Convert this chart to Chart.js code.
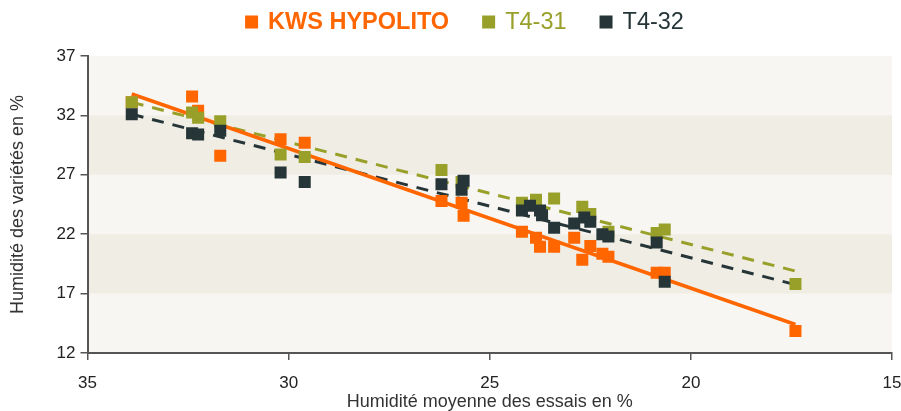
<!DOCTYPE html>
<html>
<head>
<meta charset="utf-8">
<script src="https://cdn.jsdelivr.net/npm/chart.js@4.4.1/dist/chart.umd.min.js"></script>
<style>
  html, body { margin: 0; padding: 0; background: #ffffff; }
  #wrap { width: 901px; height: 411px; position: relative; }
</style>
</head>
<body>
<div id="wrap"><canvas id="c" width="901" height="411"></canvas></div>
<script>
// ---- Data ----
const seriesNames = ["KWS HYPOLITO", "T4-31", "T4-32"];

const kwsX = [33.9, 32.4, 32.25, 31.7, 30.2, 29.6, 26.2, 25.7, 25.65, 24.2, 23.85, 23.75, 23.4, 22.9, 22.5, 22.7, 22.2, 22.05, 20.85, 20.65, 17.4];
const kwsY = [33.1, 33.6, 32.4, 28.6, 30.0, 29.7, 24.8, 24.65, 23.55, 22.2, 21.7, 20.95, 20.95, 21.7, 21.0, 19.85, 20.35, 20.1, 18.75, 18.75, 13.85];

const t431X = [33.9, 32.4, 32.25, 31.7, 30.2, 29.6, 26.2, 25.7, 24.2, 23.85, 23.4, 22.7, 22.5, 22.05, 20.85, 20.65, 17.4];
const t431Y = [33.1, 32.25, 31.8, 31.5, 28.7, 28.5, 27.4, 26.4, 24.65, 24.9, 25.0, 24.3, 23.7, 22.2, 22.1, 22.4, 17.8];

const t432X = [33.9, 32.4, 32.25, 31.7, 30.2, 29.6, 26.2, 25.65, 25.7, 24.2, 24.0, 23.75, 23.7, 23.4, 22.9, 22.65, 22.5, 22.2, 22.05, 20.85, 20.65];
const t432Y = [32.1, 30.5, 30.4, 30.7, 27.2, 26.4, 26.2, 26.5, 25.75, 24.0, 24.4, 24.0, 23.6, 22.55, 22.9, 23.4, 23.05, 22.0, 21.8, 21.3, 18.0];

// Trend line end points
const trendKwsX = [33.9, 17.4];   const trendKwsY = [33.8, 14.4];
const trend431X = [33.9, 17.4];   const trend431Y = [33.1, 18.9];
const trend432X = [33.9, 17.4];   const trend432Y = [32.1, 17.75];

// Axes
const xTicks = [35, 30, 25, 20, 15];
const yTicks = [12, 17, 22, 27, 32, 37];
const bandRanges = [[17, 22], [27, 32]];

const xTitle = "Humidité moyenne des essais en %";
const yTitle = "Humidité des variétés en %";

// ---- Styles ----
const COL_KWS = "#FF6600";
const COL_431 = "#98A02A";
const COL_432 = "#263538";
const FONT = "'Liberation Sans', Arial, Helvetica, sans-serif";

const pts = (xs, ys) => xs.map((x, i) => ({ x: x, y: ys[i] }));

const bandsPlugin = {
  id: 'bands',
  beforeDraw(chart) {
    const { ctx, chartArea, scales } = chart;
    ctx.save();
    ctx.fillStyle = "#F7F6F2";
    ctx.fillRect(chartArea.left, chartArea.top, chartArea.right - chartArea.left, chartArea.bottom - chartArea.top);
    ctx.fillStyle = "#F0EDE5";
    bandRanges.forEach(([a, b]) => {
      const y1 = scales.y.getPixelForValue(b);
      const y2 = scales.y.getPixelForValue(a);
      ctx.fillRect(chartArea.left, y1, chartArea.right - chartArea.left, y2 - y1);
    });
    ctx.restore();
  }
};

const legendPlugin = {
  id: 'customLegend',
  afterDraw(chart) {
    const ctx = chart.ctx;
    const items = [
      { text: seriesNames[0], color: COL_KWS, bold: true },
      { text: seriesNames[1], color: COL_431, bold: false },
      { text: seriesNames[2], color: COL_432, bold: false }
    ];
    const box = 13, gapText = 10, gapItem = 33, size = 23.5, cy = 22, centerX = 464.5;
    ctx.save();
    ctx.textBaseline = 'middle';
    const widths = items.map(it => {
      ctx.font = (it.bold ? "bold " : "") + size + "px " + FONT;
      return ctx.measureText(it.text).width;
    });
    let total = 0;
    items.forEach((it, i) => { total += box + gapText + widths[i] + (i < items.length - 1 ? gapItem : 0); });
    let x = centerX - total / 2;
    items.forEach((it, i) => {
      ctx.fillStyle = it.color;
      ctx.fillRect(x, cy - box / 2, box, box);
      x += box + gapText;
      ctx.font = (it.bold ? "bold " : "") + size + "px " + FONT;
      ctx.fillText(it.text, x, cy + 1);
      x += widths[i] + gapItem;
    });
    ctx.restore();
  }
};

const markerRadius = 8.5;

new Chart(document.getElementById('c'), {
  type: 'scatter',
  data: {
    datasets: [
      { label: seriesNames[0] + " trend", data: pts(trendKwsX, trendKwsY), showLine: true, borderColor: COL_KWS, borderWidth: 3.5, pointRadius: 0, order: 4 },
      { label: seriesNames[1] + " trend", data: pts(trend431X, trend431Y), showLine: true, borderColor: COL_431, borderWidth: 3, borderDash: [12, 9], pointRadius: 0, order: 4 },
      { label: seriesNames[2] + " trend", data: pts(trend432X, trend432Y), showLine: true, borderColor: COL_432, borderWidth: 3, borderDash: [12, 9], pointRadius: 0, order: 4 },
      { label: seriesNames[2], data: pts(t432X, t432Y), pointStyle: 'rect', pointRadius: markerRadius, backgroundColor: COL_432, borderWidth: 0, order: 1 },
      { label: seriesNames[1], data: pts(t431X, t431Y), pointStyle: 'rect', pointRadius: markerRadius, backgroundColor: COL_431, borderWidth: 0, order: 2 },
      { label: seriesNames[0], data: pts(kwsX, kwsY), pointStyle: 'rect', pointRadius: markerRadius, backgroundColor: COL_KWS, borderWidth: 0, order: 3 }
    ]
  },
  options: {
    responsive: false,
    animation: false,
    events: [],
    layout: { padding: { top: 56, left: 0, right: 0, bottom: 0 } },
    plugins: { legend: { display: false }, tooltip: { enabled: false } },
    scales: {
      x: {
        type: 'linear',
        reverse: true,
        min: Math.min(...xTicks),
        max: Math.max(...xTicks),
        afterBuildTicks: (s) => { s.ticks = xTicks.map(v => ({ value: v })); },
        afterFit: (s) => { s.paddingRight = 9; },
        ticks: { color: "#222", font: { family: FONT, size: 17 }, padding: 13 },
        grid: { display: true, drawOnChartArea: false, drawTicks: true, tickLength: 7, color: "#555", lineWidth: 1.5 },
        border: { display: true, color: "#555", width: 2 },
        title: { display: true, text: xTitle, color: "#333", font: { family: FONT, size: 18 }, padding: { top: -15, bottom: -2 } }
      },
      y: {
        type: 'linear',
        min: Math.min(...yTicks),
        max: Math.max(...yTicks),
        afterBuildTicks: (s) => { s.ticks = yTicks.map(v => ({ value: v })); },
        ticks: { color: "#222", font: { family: FONT, size: 17 }, padding: 5 },
        grid: { display: true, drawOnChartArea: false, drawTicks: true, tickLength: 7, color: "#555", lineWidth: 1.5 },
        border: { display: true, color: "#555", width: 2 },
        title: { display: true, text: yTitle, color: "#333", font: { family: FONT, size: 18 }, padding: { top: 7, bottom: 23 } }
      }
    }
  },
  plugins: [bandsPlugin, legendPlugin]
});
</script>
</body>
</html>
